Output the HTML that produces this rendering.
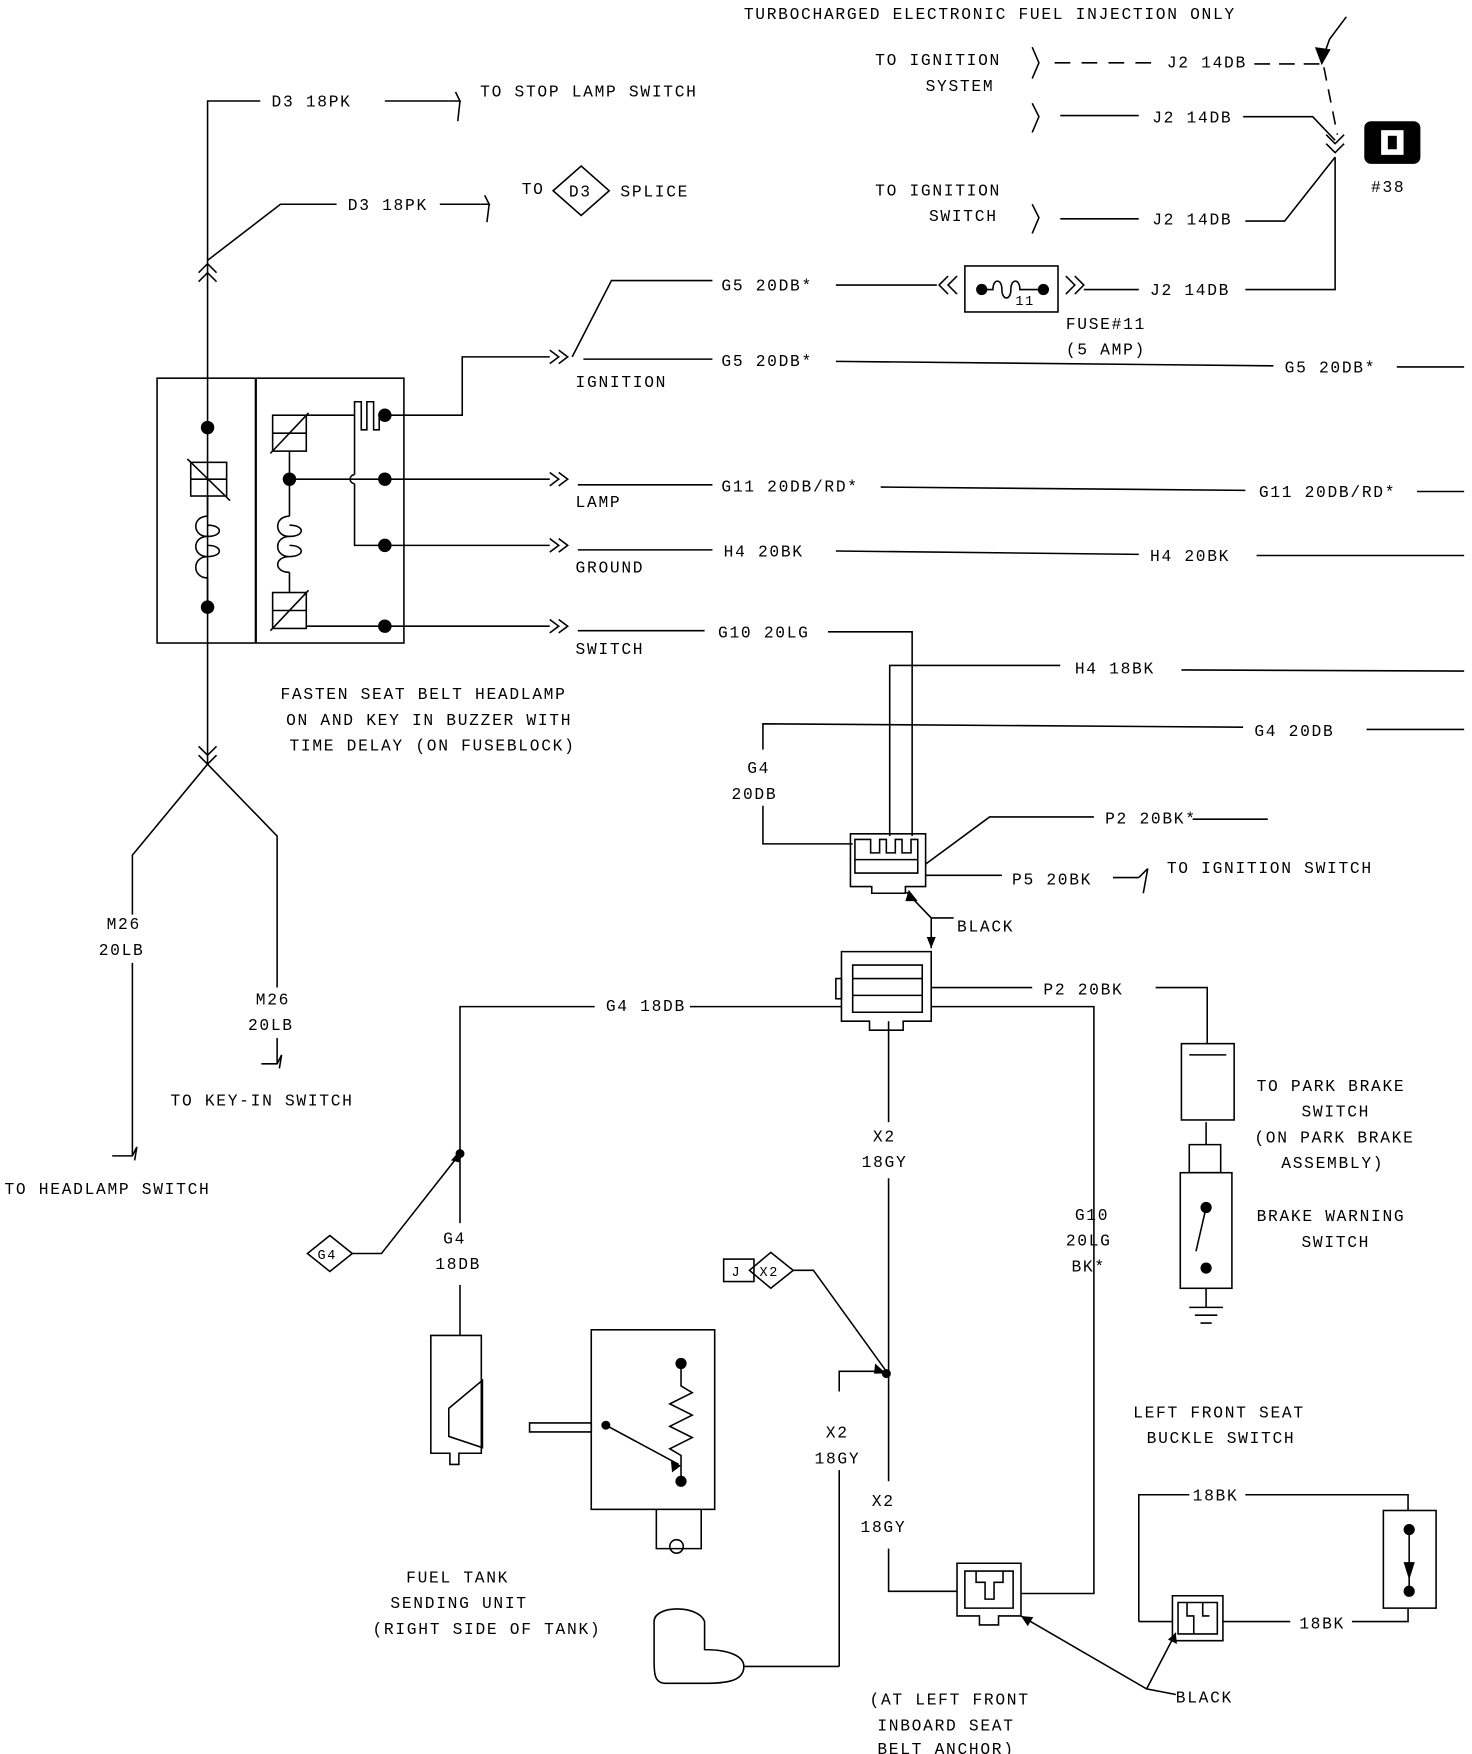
<!DOCTYPE html>
<html><head><meta charset="utf-8"><style>
html,body{margin:0;padding:0;background:#fff;}
svg{display:block}
text{font-family:"Liberation Mono","DejaVu Sans Mono",monospace;font-size:14.5px;fill:#000;letter-spacing:1.5px}
</style></head><body>
<svg width="1472" height="1754" viewBox="0 0 1312 1563" preserveAspectRatio="none" xmlns="http://www.w3.org/2000/svg">
<g stroke="#000" stroke-width="1.4" fill="none">
<polyline points="232,90 185,90 185,680"/>
<polyline points="343,90 400,90"/>
<path d="M400,90 l10,0 -4,-8 M410,90 l-2,18"/>
<polyline points="185,232 250,182 300,182"/>
<polyline points="392,182 428,182"/>
<path d="M428,182 l8,0 -4,-8 M436,182 l-2,16"/>
<path d="M177,243 l8,-8 8,8 M177,251 l8,-8 8,8"/>
<path d="M493,170 l25,-22 25,22 -25,22 z"/>
<rect x="140" y="337" width="220" height="236"/>
<line x1="228" y1="337" x2="228" y2="573" stroke-width="2"/>
<rect x="170" y="412" width="32" height="30"/><line x1="170" y1="427" x2="202" y2="427"/><line x1="167" y1="409" x2="205" y2="446"/>
<line x1="185" y1="442" x2="185" y2="460"/><line x1="185" y1="515" x2="185" y2="541"/>
<path d="M185,460 c-14,0 -14,18 0,18 c14,0 14,-10 0,-10 M185,478 c-14,0 -14,18 0,18 c14,0 14,-10 0,-10 M185,496 c-14,0 -14,19 0,19"/>
<rect x="243" y="370" width="30" height="32"/><line x1="243" y1="386" x2="273" y2="386"/><line x1="241" y1="404" x2="275" y2="368"/>
<rect x="243" y="528" width="30" height="32"/><line x1="243" y1="544" x2="273" y2="544"/><line x1="241" y1="562" x2="275" y2="526"/>
<line x1="258" y1="402" x2="258" y2="460"/><line x1="258" y1="510" x2="258" y2="528"/>
<path d="M258,460 c-14,0 -14,18 0,18 c14,0 14,-10 0,-10 M258,478 c-14,0 -14,18 0,18 c14,0 14,-10 0,-10 M258,496 c-14,0 -14,14 0,14"/>
<line x1="273" y1="370" x2="316" y2="370"/>
<path d="M316,370 V358 h6 v25 h5 v-25 h6 v25 h5 v-13"/>
<polyline points="316,370 316,423"/><path d="M316,423 a4,4 0 0 0 0,8"/><polyline points="316,431 316,486 343,486"/>
<line x1="258" y1="427" x2="343" y2="427"/>
<line x1="273" y1="558" x2="343" y2="558"/>
<polyline points="343,370 412,370 412,318 490,318"/>
<line x1="343" y1="427" x2="490" y2="427"/>
<line x1="343" y1="486" x2="490" y2="486"/>
<line x1="343" y1="558" x2="490" y2="558"/>
<path d="M490,312 l8,6 -8,6 M498,312 l8,6 -8,6"/>
<path d="M490,421 l8,6 -8,6 M498,421 l8,6 -8,6"/>
<path d="M490,480 l8,6 -8,6 M498,480 l8,6 -8,6"/>
<path d="M490,552 l8,6 -8,6 M498,552 l8,6 -8,6"/>
<path d="M177,665 l8,8 8,-8 M177,673 l8,8 8,-8"/>
<polyline points="118,815 118,762 185,681 247,745 247,880"/>
<line x1="118" y1="858" x2="118" y2="1030"/>
<path d="M100,1030 l18,0 4,-8 M122,1022 l-2,12"/>
<line x1="247" y1="925" x2="247" y2="948"/>
<path d="M233,948 l14,0 4,-8 M251,940 l-2,12"/>
<polyline points="510,318 545,250 635,250"/>
<line x1="745" y1="254" x2="835" y2="254"/>
<path d="M845,246 l-8,8 8,8 M853,246 l-8,8 8,8"/>
<rect x="860" y="237" width="83" height="41"/>
<path d="M875,258 h10 c0,-10 8,-10 8,0 c0,10 8,10 8,0 c0,-10 8,-10 8,0 h20"/>
<path d="M950,246 l8,8 -8,8 M958,246 l8,8 -8,8"/>
<line x1="966" y1="258" x2="1015" y2="258"/>
<polyline points="1110,258 1190,258 1190,140"/>
<line x1="520" y1="320" x2="635" y2="320"/>
<line x1="745" y1="322" x2="1135" y2="326"/>
<line x1="1245" y1="327" x2="1305" y2="327"/>
<line x1="515" y1="432" x2="635" y2="432"/>
<line x1="785" y1="434" x2="1110" y2="437"/>
<line x1="1263" y1="438" x2="1305" y2="438"/>
<line x1="515" y1="490" x2="635" y2="490"/>
<line x1="745" y1="491" x2="1015" y2="494"/>
<line x1="1120" y1="495" x2="1305" y2="495"/>
<line x1="515" y1="562" x2="628" y2="562"/>
<polyline points="738,563 813,563 813,745"/>
<polyline points="793,745 793,593 945,593"/>
<line x1="1053" y1="597" x2="1305" y2="598"/>
<polyline points="1108,648 680,645 680,668"/>
<polyline points="680,718 680,752 760,752"/>
<line x1="1218" y1="650" x2="1305" y2="650"/>
<path d="M758,743 h67 v47 h-18 v6 h-30 v-6 h-19 z"/>
<path d="M762,748 h14 v12 h8 v-12 h6 v12 h8 v-12 h6 v12 h8 v-12 h6 v30 h-56 z"/>
<line x1="762" y1="766" x2="818" y2="766"/>
<polyline points="825,770 882,728 975,728"/>
<line x1="1063" y1="730" x2="1130" y2="730"/>
<line x1="825" y1="780" x2="893" y2="780"/>
<line x1="992" y1="782" x2="1015" y2="782"/>
<path d="M1015,782 l8,-8 M1023,774 l-4,22"/>
<polyline points="808,795 830,818 850,818"/>
<line x1="830" y1="818" x2="830" y2="845"/>
<path d="M750,848 h80 v62 h-25 v8 h-30 v-8 h-25 z"/>
<rect x="745" y="872" width="5" height="18"/>
<path d="M760,860 h62 v12 h-62 z M760,872 v15 M822,872 v15 M760,887 h62 v15 h-62 z"/>
<polyline points="410,1028 410,897 530,897"/>
<line x1="615" y1="897" x2="750" y2="897"/>
<line x1="830" y1="880" x2="920" y2="880"/>
<polyline points="1030,880 1076,880 1076,930"/>
<rect x="1053" y="930" width="47" height="68"/><line x1="1060" y1="940" x2="1093" y2="940"/>
<polyline points="830,897 975,897 975,1420 910,1420"/>
<line x1="792" y1="910" x2="792" y2="1000"/>
<line x1="792" y1="1050" x2="792" y2="1320"/>
<polyline points="792,1380 792,1418 853,1418"/>
<path d="M853,1393 h57 v47 h-20 v8 h-17 v-8 h-20 z"/>
<path d="M860,1400 h43 v33 h-43 z M870,1400 v10 h8 v15 h8 v-15 h8 v-10"/>
<line x1="410" y1="1028" x2="410" y2="1090"/>
<line x1="410" y1="1145" x2="410" y2="1190"/>
<path d="M274,1117 l20,-16 20,16 -20,16 z"/>
<polyline points="314,1117 340,1117 410,1028"/>
<path d="M384,1190 h45 v105 h-20 v10 h-8 v-10 h-17 z M400,1255 l30,-25 v60 l-30,-10 z"/>
<rect x="527" y="1185" width="110" height="160"/>
<path d="M472,1268 h55 v8 h-55 z"/>
<path d="M607,1215 v20 l10,6 -20,10 20,10 -20,10 20,10 -20,10 10,6 v20"/>
<line x1="540" y1="1270" x2="605" y2="1305"/>
<path d="M585,1345 v35 h40 v-35 M597,1378 a6,6 0 1 0 12,0 a6,6 0 1 0 -12,0"/>
<polyline points="748,1240 748,1222 790,1222"/>
<line x1="748" y1="1310" x2="748" y2="1485"/>
<polyline points="748,1485 663,1485"/>
<path d="M583,1445 c0,-15 40,-15 45,0 v25 c20,0 35,5 35,15 c0,15 -20,15 -40,15 h-30 c-10,0 -10,-10 -10,-20 z"/>
<rect x="645" y="1122" width="27" height="20"/>
<path d="M668,1132 l19,-16 20,16 -20,16 z"/>
<polyline points="707,1132 725,1132 790,1222"/>
<line x1="940" y1="56" x2="1030" y2="56" stroke-dasharray="14,10"/>
<line x1="1118" y1="57" x2="1178" y2="57" stroke-dasharray="14,8"/>
<line x1="1180" y1="60" x2="1192" y2="120" stroke-dasharray="12,8"/>
<polyline points="1200,15 1185,35 1178,55"/>
<line x1="945" y1="103" x2="1015" y2="103"/>
<polyline points="1108,104 1170,104 1190,125"/>
<path d="M1182,120 l8,8 8,-8 M1182,128 l8,8 8,-8"/>
<line x1="945" y1="195" x2="1015" y2="195"/>
<polyline points="1110,197 1145,197 1190,140"/>
<path d="M920,42 l6,14 -6,14 M920,92 l6,12 -6,14 M920,182 l6,12 -6,14"/>
<path d="M1075,1000 v20"/>
<path d="M1060,1020 h28 v25 h-28 z"/>
<rect x="1052" y="1045" width="46" height="103"/>
<line x1="1075" y1="1076" x2="1066" y2="1115"/>
<line x1="1075" y1="1148" x2="1075" y2="1165"/>
<path d="M1060,1165 h30 M1065,1172 h20 M1070,1179 h10"/>
<polyline points="1015,1445 1015,1332 1060,1332"/>
<polyline points="1110,1332 1255,1332 1255,1346"/>
<rect x="1233" y="1346" width="47" height="87"/>
<line x1="1256" y1="1363" x2="1256" y2="1418"/>
<path d="M1045,1422 h45 v40 h-45 z M1050,1428 h35 v28 h-35 z M1058,1428 v12 h6 v16 M1072,1428 v12 h6"/>
<line x1="1090" y1="1445" x2="1150" y2="1445"/>
<polyline points="1205,1445 1255,1445 1255,1433"/>
<line x1="1015" y1="1445" x2="1045" y2="1445"/>
<polyline points="1048,1510 1022,1505 910,1440"/>
<line x1="1022" y1="1505" x2="1048" y2="1455"/>
</g>
<g fill="#000">
<circle cx="185" cy="381" r="6"/><circle cx="185" cy="541" r="6"/>
<circle cx="258" cy="427" r="6"/>
<circle cx="343" cy="370" r="6"/><circle cx="343" cy="427" r="6"/><circle cx="343" cy="486" r="6"/><circle cx="343" cy="558" r="6"/>
<circle cx="875" cy="258" r="5"/><circle cx="930" cy="258" r="5"/>
<circle cx="410" cy="1028" r="4"/><circle cx="790" cy="1224" r="4"/>
<circle cx="607" cy="1215" r="5"/><circle cx="607" cy="1320" r="5"/><circle cx="540" cy="1270" r="4"/>
<circle cx="1075" cy="1076" r="5"/><circle cx="1075" cy="1130" r="5"/>
<circle cx="1256" cy="1363" r="5"/><circle cx="1256" cy="1418" r="5"/>
<path d="M1251,1392 h10 l-5,16 z"/>
<path d="M1172,42 l14,2 -8,14 z"/>
<path d="M780,1215 l10,9 -11,0 z M402,1034 l8,-9 0,11 z M598,1302 l9,4 -8,6 z M810,793 l8,10 -11,0z M830,845 l-4,-10 8,0 z M910,1440 l11,1 -5,8 z M1048,1455 l1,10 -8,-4 z"/>
<rect x="1216" y="108" width="50" height="38" rx="6"/>
</g>
<rect x="1231" y="116" width="20" height="22" fill="#fff"/><rect x="1237" y="121" width="8" height="12" fill="#000"/>
<g>
<text x="663" y="17">TURBOCHARGED ELECTRONIC FUEL INJECTION ONLY</text>
<text x="242" y="95">D3 18PK</text>
<text x="428" y="86">TO STOP LAMP SWITCH</text>
<text x="310" y="187">D3 18PK</text>
<text x="465" y="173">TO</text>
<text x="507" y="175">D3</text>
<text x="553" y="175">SPLICE</text>
<text x="780" y="58">TO IGNITION</text>
<text x="825" y="81">SYSTEM</text>
<text x="1040" y="60">J2 14DB</text>
<text x="1027" y="109">J2 14DB</text>
<text x="780" y="174">TO IGNITION</text>
<text x="828" y="197">SWITCH</text>
<text x="1027" y="200">J2 14DB</text>
<text x="1222" y="171">#38</text>
<text x="643" y="259">G5 20DB*</text>
<text x="1025" y="263">J2 14DB</text>
<text x="905" y="272" style="font-size:12px">11</text>
<text x="950" y="293">FUSE#11</text>
<text x="950" y="316">(5 AMP)</text>
<text x="643" y="326">G5 20DB*</text>
<text x="1145" y="332">G5 20DB*</text>
<text x="513" y="345">IGNITION</text>
<text x="643" y="438">G11 20DB/RD*</text>
<text x="1122" y="443">G11 20DB/RD*</text>
<text x="513" y="452">LAMP</text>
<text x="645" y="496">H4 20BK</text>
<text x="1025" y="500">H4 20BK</text>
<text x="513" y="510">GROUND</text>
<text x="640" y="568">G10 20LG</text>
<text x="513" y="583">SWITCH</text>
<text x="958" y="600">H4 18BK</text>
<text x="250" y="623">FASTEN SEAT BELT HEADLAMP</text>
<text x="255" y="646">ON AND KEY IN BUZZER WITH</text>
<text x="258" y="669">TIME DELAY (ON FUSEBLOCK)</text>
<text x="1118" y="656">G4 20DB</text>
<text x="666" y="689">G4</text>
<text x="652" y="712">20DB</text>
<text x="985" y="734">P2 20BK*</text>
<text x="902" y="788">P5 20BK</text>
<text x="1040" y="778">TO IGNITION SWITCH</text>
<text x="853" y="830">BLACK</text>
<text x="95" y="828">M26</text>
<text x="88" y="851">20LB</text>
<text x="228" y="895">M26</text>
<text x="221" y="918">20LB</text>
<text x="540" y="901">G4 18DB</text>
<text x="930" y="886">P2 20BK</text>
<text x="152" y="985">TO KEY-IN SWITCH</text>
<text x="1120" y="972">TO PARK BRAKE</text>
<text x="1160" y="995">SWITCH</text>
<text x="1118" y="1018">(ON PARK BRAKE</text>
<text x="1142" y="1041">ASSEMBLY)</text>
<text x="778" y="1017">X2</text>
<text x="768" y="1040">18GY</text>
<text x="4" y="1064">TO HEADLAMP SWITCH</text>
<text x="1120" y="1088">BRAKE WARNING</text>
<text x="1160" y="1111">SWITCH</text>
<text x="958" y="1087">G10</text>
<text x="950" y="1110">20LG</text>
<text x="955" y="1133">BK*</text>
<text x="395" y="1108">G4</text>
<text x="388" y="1131">18DB</text>
<text x="283" y="1122" style="font-size:12px">G4</text>
<text x="652" y="1137" style="font-size:12px">J</text>
<text x="677" y="1137" style="font-size:12px">X2</text>
<text x="1010" y="1263">LEFT FRONT SEAT</text>
<text x="1022" y="1286">BUCKLE SWITCH</text>
<text x="736" y="1281">X2</text>
<text x="726" y="1304">18GY</text>
<text x="777" y="1342">X2</text>
<text x="767" y="1365">18GY</text>
<text x="1063" y="1337">18BK</text>
<text x="1158" y="1451">18BK</text>
<text x="362" y="1410">FUEL TANK</text>
<text x="348" y="1433">SENDING UNIT</text>
<text x="332" y="1456">(RIGHT SIDE OF TANK)</text>
<text x="1048" y="1517">BLACK</text>
<text x="775" y="1519">(AT LEFT FRONT</text>
<text x="782" y="1542">INBOARD SEAT</text>
<text x="782" y="1563">BELT ANCHOR)</text>
</g>
</svg>
</body></html>
